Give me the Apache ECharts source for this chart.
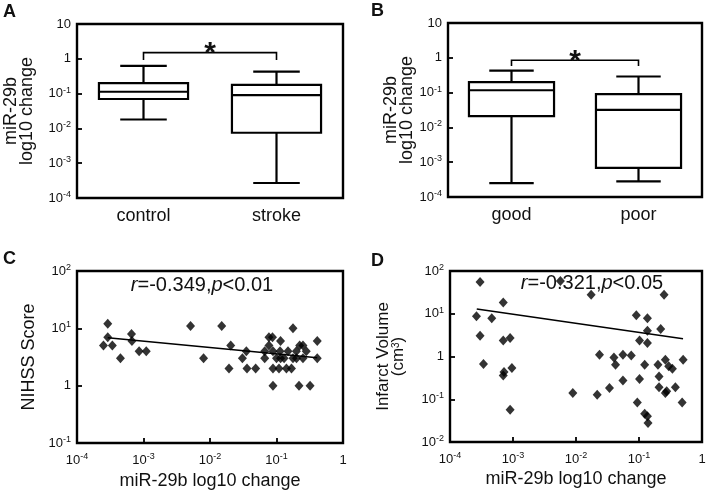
<!DOCTYPE html>
<html>
<head>
<meta charset="utf-8">
<script src="https://cdn.jsdelivr.net/npm/echarts@6/dist/echarts.min.js"></script>
<style>
html,body{margin:0;padding:0;background:#fff;}
#chart{width:709px;height:494px;}
</style>
</head>
<body>
<div id="chart"></div>
<script>
// ---------- data ----------
const categoriesA = ['control', 'stroke'];
// [min, Q1, median, Q3, max]
const boxValuesA = [
  [0.018, 0.070, 0.113, 0.200, 0.63],
  [0.00027, 0.0075, 0.091, 0.178, 0.43]
];
const categoriesB = ['good', 'poor'];
const boxValuesB = [
  [0.00025, 0.021, 0.117, 0.200, 0.43],
  [0.00028, 0.00069, 0.032, 0.091, 0.29]
];
// [from category, to category, bracket level, leg end]
const bracketA = [0, 1, 1.5, 0.92];
const bracketB = [0, 1, 0.85, 0.58];
const sigMark = '*';

const scatterC = [
  [2.9e-4,12],[2.9e-4,7],[2.5e-4,5],[3.4e-4,5],[4.5e-4,3],[6.6e-4,8],[6.7e-4,6],[8.6e-4,4],[1.1e-3,4],
  [5.1e-3,11],[8.0e-3,3],[0.015,11],[0.0205,5],[0.0193,2],[0.0307,3],[0.0352,4],[0.036,2],[0.0486,2],
  [0.0665,4],[0.0665,3],[0.077,7],[0.087,7],[0.077,5],[0.0885,4],[0.0885,2],[0.0885,1],[0.109,2],
  [0.115,6],[0.113,4],[0.115,3],[0.141,2],[0.149,4],[0.168,2],[0.177,10],[0.177,3],[0.199,4],
  [0.223,5],[0.25,5],[0.28,4],[0.218,1],[0.32,1],[0.41,6],[0.41,3],[0.25,3],[0.13,3],[0.1,3],[0.2,3]
];
const fitC = [[2.9e-4, 6.88], [0.41, 3.08]];
const statC = ['r', '=-0.349,', 'p', '<0.01'];

const scatterD = [
  [3.0e-4,55],[2.63e-4,8.7],[4.6e-4,7.9],[7.0e-4,18.4],[3.0e-4,3.07],[7.0e-4,2.38],[9.0e-4,2.71],
  [3.4e-4,0.67],[7.2e-4,0.434],[7.0e-4,0.36],[9.6e-4,0.54],[9.0e-4,0.057],
  [0.00565,58],[0.0089,0.14],[0.0174,27.9],[0.0236,1.1],[0.0217,0.128],[0.034,0.183],[0.040,0.95],
  [0.0424,0.645],[0.0556,1.1],[0.0556,0.276],[0.0753,1.05],
  [0.0906,9.2],[0.136,7.9],[0.136,4.0],[0.221,4.4],[0.102,2.38],[0.136,2.07],[0.123,0.645],[0.2,0.645],
  [0.262,0.84],[0.296,0.59],[0.339,0.52],[0.502,0.84],[0.102,0.298],[0.208,0.342],[0.208,0.19],
  [0.262,0.14],[0.275,0.153],[0.378,0.19],[0.484,0.084],[0.094,0.084],[0.123,0.046],[0.136,0.04],
  [0.139,0.028],[0.25,27.9]
];
const fitD = [[2.66e-4, 12.9], [0.50, 2.61]];
const statD = ['r', '=-0.321,', 'p', '<0.05'];

const yNameBox = 'miR-29b\nlog10 change';
const xNameScatter = 'miR-29b log10 change';
const yNameC = 'NIHSS Score';
const yNameD = 'Infarct Volume\n(cm{s|3})';
const panelLetters = ['A', 'B', 'C', 'D'];

// ---------- styling helpers ----------
const FONT = 'Liberation Sans, Arial, sans-serif';
const TXT = '#111';
const supRich = { s: { fontSize: 9, lineHeight: 9, verticalAlign: 'top', fontFamily: FONT, color: TXT } };

function expFormatter(plainTen) {
  return function (v) {
    const e = Math.round(Math.log10(v));
    if (e === 0) return '1';
    if (e === 1 && plainTen) return '10';
    return '10{s|' + e + '}';
  };
}

function logAxis(gridIndex, min, max, plainTen, margin, extra) {
  return Object.assign({
    type: 'log', logBase: 10, gridIndex, min, max,
    axisLine: { show: false },
    axisTick: { show: true, inside: true, length: 5, lineStyle: { color: '#000', width: 1.8 } },
    splitLine: { show: false },
    minorTick: { show: false },
    axisLabel: {
      fontFamily: FONT, fontSize: 13, lineHeight: 16, color: TXT, margin: margin,
      formatter: expFormatter(plainTen), rich: supRich,
      showMinLabel: true, showMaxLabel: true
    }
  }, extra || {});
}

function catAxis(gridIndex, data) {
  return {
    type: 'category', gridIndex, data,
    axisLine: { show: false },
    axisTick: { show: false },
    axisLabel: { fontFamily: FONT, fontSize: 18, color: TXT, margin: 9 }
  };
}

function renderBox(params, api) {
  const ci = api.value(0);
  const p = [1, 2, 3, 4, 5].map(i => api.coord([ci, api.value(i)]));
  const band = api.size([1, 1], [ci, 1])[0];
  const bw = band * 0.67, cw = band * 0.35;
  const x = p[0][0];
  const st = { stroke: '#000', lineWidth: 2.2, fill: null };
  return {
    type: 'group',
    children: [
      { type: 'line', shape: { x1: x, y1: p[0][1], x2: x, y2: p[1][1] }, style: st },
      { type: 'line', shape: { x1: x, y1: p[3][1], x2: x, y2: p[4][1] }, style: st },
      { type: 'line', shape: { x1: x - cw / 2, y1: p[0][1], x2: x + cw / 2, y2: p[0][1] }, style: st },
      { type: 'line', shape: { x1: x - cw / 2, y1: p[4][1], x2: x + cw / 2, y2: p[4][1] }, style: st },
      { type: 'rect', shape: { x: x - bw / 2, y: p[3][1], width: bw, height: p[1][1] - p[3][1] },
        style: { stroke: '#000', lineWidth: 2.2, fill: '#fff' } },
      { type: 'line', shape: { x1: x - bw / 2, y1: p[2][1], x2: x + bw / 2, y2: p[2][1] }, style: st }
    ]
  };
}

function renderBracket(params, api) {
  const a = api.coord([api.value(0), api.value(2)]);
  const b = api.coord([api.value(1), api.value(2)]);
  const legY = api.coord([api.value(0), api.value(3)])[1];
  const st = { stroke: '#000', lineWidth: 1.6, fill: null };
  return {
    type: 'group',
    children: [
      { type: 'polyline', shape: { points: [[a[0], legY], a, b, [b[0], legY]] }, style: st },
      { type: 'text', x: (a[0] + b[0]) / 2, y: a[1] + 1,
        style: { text: sigMark, font: 'bold 30px ' + FONT, fill: TXT, align: 'center', verticalAlign: 'middle' } }
    ]
  };
}

const grids = [
  { left: 77, top: 24, width: 266, height: 174 },
  { left: 448, top: 23, width: 254, height: 174 },
  { left: 77, top: 271, width: 266, height: 172 },
  { left: 450, top: 271, width: 252, height: 171 }
].map(g => Object.assign({ show: true, borderColor: '#000', borderWidth: 2.4, backgroundColor: 'transparent', containLabel: false }, g));

const nameStyle = { fontFamily: FONT, fontSize: 18, color: TXT, lineHeight: 16 };

const option = {
  animation: false,
  backgroundColor: '#fff',
  grid: grids,
  xAxis: [
    catAxis(0, categoriesA),
    catAxis(1, categoriesB),
    logAxis(2, 1e-4, 1, false, 9, { name: xNameScatter, nameLocation: 'middle', nameGap: 30, nameTextStyle: nameStyle }),
    logAxis(3, 1e-4, 1, false, 9, { name: xNameScatter, nameLocation: 'middle', nameGap: 29, nameTextStyle: nameStyle })
  ],
  yAxis: [
    logAxis(0, 1e-4, 10, true, 6, { name: yNameBox, nameLocation: 'middle', nameGap: 42, nameTextStyle: nameStyle }),
    logAxis(1, 1e-4, 10, true, 6, { name: yNameBox, nameLocation: 'middle', nameGap: 27, nameTextStyle: nameStyle }),
    logAxis(2, 0.1, 100, false, 6, { name: yNameC, nameLocation: 'middle', nameGap: 40, nameTextStyle: nameStyle }),
    logAxis(3, 0.01, 100, false, 6, { name: yNameD, nameLocation: 'middle', nameGap: 44,
      nameTextStyle: Object.assign({}, nameStyle, { fontSize: 17, lineHeight: 15, rich: { s: { fontSize: 10, lineHeight: 8, verticalAlign: 'top', fontFamily: FONT, color: TXT } } }) })
  ],
  series: [
    { type: 'custom', xAxisIndex: 0, yAxisIndex: 0, renderItem: renderBox,
      encode: { x: 0, y: [1, 2, 3, 4, 5] },
      data: boxValuesA.map((v, i) => [i].concat(v)) },
    { type: 'custom', xAxisIndex: 0, yAxisIndex: 0, renderItem: renderBracket,
      encode: { x: [0, 1], y: [2, 3] }, data: [bracketA], z: 3 },
    { type: 'custom', xAxisIndex: 1, yAxisIndex: 1, renderItem: renderBox,
      encode: { x: 0, y: [1, 2, 3, 4, 5] },
      data: boxValuesB.map((v, i) => [i].concat(v)) },
    { type: 'custom', xAxisIndex: 1, yAxisIndex: 1, renderItem: renderBracket,
      encode: { x: [0, 1], y: [2, 3] }, data: [bracketB], z: 3 },
    { type: 'scatter', xAxisIndex: 2, yAxisIndex: 2, data: scatterC,
      symbol: 'diamond', symbolSize: [9, 10], itemStyle: { color: '#000' } },
    { type: 'line', xAxisIndex: 2, yAxisIndex: 2, data: fitC, symbol: 'none',
      lineStyle: { color: '#000', width: 1.5 } },
    { type: 'scatter', xAxisIndex: 3, yAxisIndex: 3, data: scatterD,
      symbol: 'diamond', symbolSize: [9, 10], itemStyle: { color: '#000' }, z: 5 },
    { type: 'line', xAxisIndex: 3, yAxisIndex: 3, data: fitD, symbol: 'none',
      lineStyle: { color: '#000', width: 1.5 } }
  ],
  graphic: [
    { type: 'text', x: 3, y: 3, style: { text: panelLetters[0], font: 'bold 18px ' + FONT, fill: TXT } },
    { type: 'text', x: 371, y: 2, style: { text: panelLetters[1], font: 'bold 18px ' + FONT, fill: TXT } },
    { type: 'text', x: 3, y: 250, style: { text: panelLetters[2], font: 'bold 18px ' + FONT, fill: TXT } },
    { type: 'text', x: 371, y: 252, style: { text: panelLetters[3], font: 'bold 18px ' + FONT, fill: TXT } },
    { type: 'text', x: 202, y: 285, z: 1,
      style: { text: '{i|' + statC[0] + '}' + statC[1] + '{i|' + statC[2] + '}' + statC[3],
        font: '20px ' + FONT, fill: TXT, align: 'center', verticalAlign: 'middle',
        rich: { i: { fontStyle: 'italic', fontSize: 20, fontFamily: FONT, color: TXT } } } },
    { type: 'text', x: 592, y: 283, z: 1,
      style: { text: '{i|' + statD[0] + '}' + statD[1] + '{i|' + statD[2] + '}' + statD[3],
        font: '20px ' + FONT, fill: TXT, align: 'center', verticalAlign: 'middle',
        rich: { i: { fontStyle: 'italic', fontSize: 20, fontFamily: FONT, color: TXT } } } }
  ]
};

const chart = echarts.init(document.getElementById('chart'), null, { renderer: 'canvas' });
chart.setOption(option);
</script>
</body>
</html>
